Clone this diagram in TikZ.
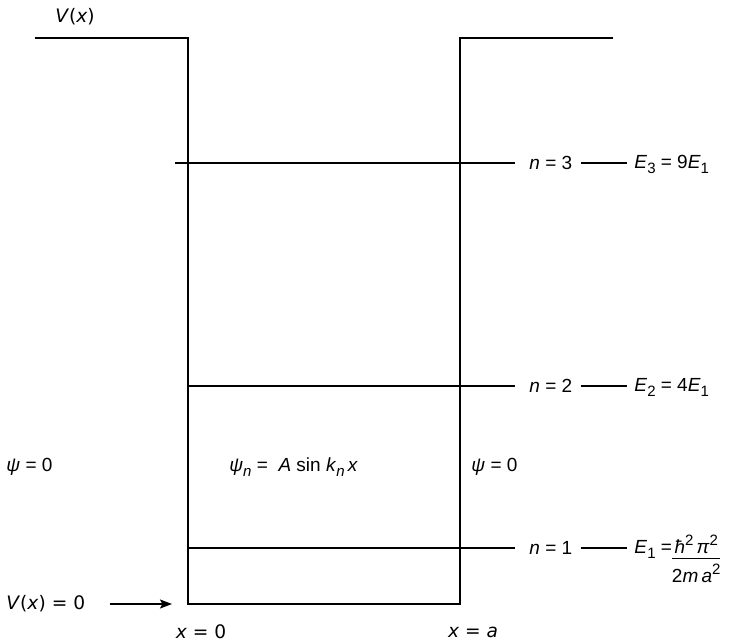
\documentclass[tikz,border=0pt]{standalone}
\usepackage{fontspec}
\setmainfont{Liberation Sans}
\newfontfamily\dvfont{DejaVu Sans}
\usetikzlibrary{arrows.meta,positioning}
\newcommand\dn[1]{\raisebox{-2.5pt}{\fontsize{7.5}{8}\selectfont #1}}
\newcommand\up[1]{\raisebox{4pt}{\fontsize{7.5}{8}\selectfont #1}}

\begin{document}
\begin{tikzpicture}[
    x=0.5pt,y=-0.5pt,
    lbl/.style={
        font=\fontsize{9.5}{11}\selectfont,
        inner sep=1pt
    },
    dlbl/.style={
        font=\dvfont\fontsize{9.3}{11}\selectfont,
        inner sep=1pt
    },
    wall/.style={line width=0.9pt},
    level/.style={line width=0.7pt},
    arrow/.style={-{Stealth[length=6pt,width=4.5pt,inset=1.2pt]},line width=0.8pt}
]
\useasboundingbox (0,0) rectangle (747,642);

% well outline
\coordinate (tl) at (35,38);
\coordinate (lw) at (188,38);
\coordinate (bl) at (188,604);
\coordinate (br) at (460,604);
\coordinate (rw) at (460,38);
\coordinate (tr) at (613,38);
\draw[wall] (tl) -- (lw) -- (bl) -- (br) -- (rw) -- (tr);

% energy levels
\coordinate (l3a) at (175,163);
\coordinate (l3b) at (515,163);
\coordinate (l2a) at (188,386);
\coordinate (l2b) at (515,386);
\coordinate (l1a) at (188,548);
\coordinate (l1b) at (515,548);
\draw[level] (l3a) -- (l3b);
\draw[level] (l2a) -- (l2b);
\draw[level] (l1a) -- (l1b);

\node[dlbl] (vx) at (75,17) {\textit{V}(\textit{x})};

\node[lbl, anchor=west] (n3) at (527,163) {\textit{n} = 3};
\node[lbl, anchor=west] (n2) at (527,386) {\textit{n} = 2};
\node[lbl, anchor=west] (n1) at (527,548) {\textit{n} = 1};

\node[lbl, anchor=base west] (e3) at (632,168) {\textit{E}\dn{3} = 9\textit{E}\dn{1}};
\node[lbl, anchor=base west] (e2) at (632,391) {\textit{E}\dn{2} = 4\textit{E}\dn{1}};
\node[lbl, anchor=base west] (e1) at (632,553)
{\textit{E}\dn{1} =\begin{tabular}[t]{@{}c@{}}
\textit{ħ}\up{2}\,\textit{π}\up{2}\\[-1pt]\hline
\rule{0pt}{12pt}2\textit{m}\,\textit{a}\up{2}
\end{tabular}};

\draw[level, shorten <=3pt, shorten >=2.5pt] (n3.east) -- (e3.west |- n3.east);
\draw[level, shorten <=3pt, shorten >=2.5pt] (n2.east) -- (e2.west |- n2.east);
\draw[level, shorten <=3pt, shorten >=2.5pt] (n1.east) -- (e1.west |- n1.east);

\node[lbl, anchor=west] (psil) at (4,467) {\textit{ψ} = 0};
\node[lbl, anchor=west] (psin) at (227,467)
{\textit{ψ}\dn{\textit{n}} = \ \textit{A} sin \textit{k}\dn{\textit{n}}\,\textit{x}};
\node[lbl, anchor=west] (psir) at (469,467) {\textit{ψ} = 0};

\node[dlbl, anchor=west] (v0) at (4,604) {\textit{V}(\textit{x}) = 0};
\draw[arrow, shorten <=11pt, shorten >=8pt] (v0.east) -- (bl);

\node[dlbl] (x0) at (201,632) {\textit{x} = 0};
\node[dlbl] (xa) at (473,632) {\textit{x} = \textit{a}};

\end{tikzpicture}
\end{document}
